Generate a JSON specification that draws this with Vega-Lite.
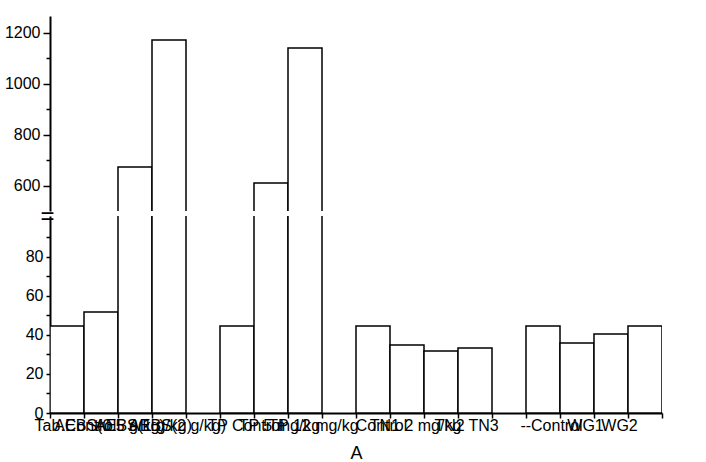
{
  "$schema": "https://vega.github.io/schema/vega-lite/v6.json",
  "padding": {"left": 4, "top": 16, "right": 5, "bottom": 0},
  "spacing": 5,
  "bounds": "flush",
  "config": {
    "view": {"stroke": null},
    "font": "Liberation Sans",
    "axis": {"domainColor": "black", "tickColor": "black", "labelColor": "black", "titleColor": "black", "domainWidth": 2, "tickWidth": 1.5, "grid": false}
  },
  "data": {
    "values": [
      {"group": "Tab.Control", "value": 44.6},
      {"group": "AEBS(0.5 g/kg)", "value": 51.8},
      {"group": "AEBS(1 g/kg)", "value": 673},
      {"group": "AEBS(2 g/kg)", "value": 1171},
      {"group": "TP Control", "value": 44.6},
      {"group": "TP 5 mg/kg", "value": 610},
      {"group": "TP 12 mg/kg", "value": 1139},
      {"group": "Control", "value": 44.6},
      {"group": "TN1 2 mg/kg", "value": 34.9},
      {"group": "TN2", "value": 31.8},
      {"group": "TN3", "value": 33.3},
      {"group": "--Control", "value": 44.6},
      {"group": "WG1", "value": 35.9},
      {"group": "WG2", "value": 40.5},
      {"group": "WG3", "value": 44.6}
    ]
  },
  "vconcat": [
    {
      "width": 612,
      "height": 195,
      "mark": {"type": "bar", "fill": "white", "stroke": "black", "strokeWidth": 1.5, "clip": true},
      "encoding": {
        "x": {
          "field": "group", "type": "nominal", "sort": null,
          "scale": {"domain": ["Tab.Control", "AEBS(0.5 g/kg)", "AEBS(1 g/kg)", "AEBS(2 g/kg)", " ", "TP Control", "TP 5 mg/kg", "TP 12 mg/kg", "  ", "Control", "TN1 2 mg/kg", "TN2", "TN3", "   ", "--Control", "WG1", "WG2", "WG3"], "paddingInner": 0, "paddingOuter": 0},
          "axis": null
        },
        "y": {
          "field": "value", "type": "quantitative",
          "scale": {"domain": [500, 1265], "nice": false, "zero": false},
          "axis": {
            "title": null,
            "values": [600, 700, 800, 900, 1000, 1100, 1200],
            "format": "d",
            "labelExpr": "datum.value % 200 == 0 ? datum.label : ''",
            "tickSize": {"condition": {"test": "datum.value % 200 == 0", "value": 7}, "value": 4},
            "labelFontSize": 16,
            "labelPadding": 3
          }
        }
      }
    },
    {
      "width": 612,
      "height": 197,
      "mark": {"type": "bar", "fill": "white", "stroke": "black", "strokeWidth": 1.5, "clip": true},
      "encoding": {
        "x": {
          "field": "group", "type": "nominal", "sort": null,
          "scale": {"domain": ["Tab.Control", "AEBS(0.5 g/kg)", "AEBS(1 g/kg)", "AEBS(2 g/kg)", " ", "TP Control", "TP 5 mg/kg", "TP 12 mg/kg", "  ", "Control", "TN1 2 mg/kg", "TN2", "TN3", "   ", "--Control", "WG1", "WG2", "WG3"], "paddingInner": 0, "paddingOuter": 0},
          "axis": {
            "title": "A",
            "titleFontSize": 18,
            "titleFontWeight": "normal",
            "titlePadding": 11,
            "labelAngle": 0,
            "labelFontSize": 16,
            "labelOverlap": false,
            "labelPadding": -1,
            "labelOffset": 8,
            "labelBound": false,
            "labelExpr": "datum.value == 'WG3' ? '' : datum.value",
            "tickSize": 5,
            "tickBand": "extent"
          }
        },
        "y": {
          "field": "value", "type": "quantitative",
          "scale": {"domain": [0, 101], "nice": false},
          "axis": {
            "title": null,
            "values": [0, 10, 20, 30, 40, 50, 60, 70, 80, 90, 101],
            "labelExpr": "datum.value == 101 ? '=' : (datum.value % 20 == 0 ? datum.label : '')",
            "tickSize": {"condition": {"test": "datum.value == 101", "value": 0}, "value": 4},
            "labelAlign": {"condition": {"test": "datum.value == 101", "value": "center"}, "value": "right"},
            "labelFontSize": {"condition": {"test": "datum.value == 101", "value": 24}, "value": 16},
            "labelPadding": 3,
            "encode": {
              "labels": {
                "update": {
                  "angle": {"signal": "datum.value == 101 ? -35 : 0"}
                }
              }
            }
          }
        }
      }
    }
  ]
}
